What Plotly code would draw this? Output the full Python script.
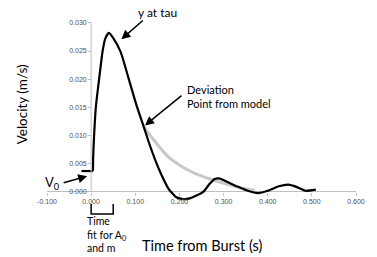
import plotly.graph_objects as go

# Measured velocity (black)
t_measured = [-0.022, 0.004, 0.0045, 0.0067, 0.0106, 0.018, 0.026, 0.032, 0.040, 0.049,
              0.067, 0.085, 0.103, 0.119, 0.132, 0.145, 0.160, 0.175, 0.192, 0.209, 0.225,
              0.240, 0.254, 0.268, 0.280, 0.290, 0.305, 0.333, 0.355, 0.378, 0.400, 0.425,
              0.447, 0.465, 0.486, 0.509]
v_measured = [0.0037, 0.0037, 0.0060, 0.0100, 0.0150, 0.0200, 0.0250, 0.0272, 0.0282, 0.0274,
              0.0248, 0.0201, 0.0153, 0.0116, 0.0085, 0.0057, 0.0029, 0.0006, -0.0009, -0.0013, -0.0011,
              -0.0006, 0.0000, 0.0014, 0.0023, 0.0024, 0.0019, 0.0009, 0.0002, -0.0002, 0.0002, 0.0010,
              0.0013, 0.0009, 0.0002, 0.0004]

# Model fit (gray)
t_model = [0.119, 0.142, 0.175, 0.205, 0.235, 0.273, 0.303, 0.340, 0.371]
v_model = [0.0116, 0.0092, 0.0062, 0.0045, 0.0033, 0.0022, 0.0015, 0.0007, 0.0003]

x_ticks = [-0.1, 0.0, 0.1, 0.2, 0.3, 0.4, 0.5, 0.6]
x_tick_labels = ["-0.100", "0.000", "0.100", "0.200", "0.300", "0.400", "0.500", "0.600"]
y_ticks = [0.000, 0.005, 0.010, 0.015, 0.020, 0.025, 0.030]
y_tick_labels = ["0.000", "0.005", "0.010", "0.015", "0.020", "0.025", "0.030"]

fit_window = [0.0, 0.05]
v0_point = [-0.009, 0.0028]
tau_point = [0.0685, 0.0271]
deviation_point = [0.122, 0.0118]

X_RANGE = [-0.1, 0.6]
Y_RANGE = [-0.0025, 0.0305]
FONT = "Lato"
AXIS_COLOR = "#bfbfbf"


def xp(x):
    return (x - X_RANGE[0]) / (X_RANGE[1] - X_RANGE[0])


fig = go.Figure()
fig.add_trace(go.Scatter(x=t_model, y=v_model, mode="lines",
                         line=dict(color="#c8c8c8", width=3, shape="spline"),
                         hoverinfo="skip", showlegend=False))
fig.add_trace(go.Scatter(x=t_measured[:2], y=v_measured[:2], mode="lines",
                         line=dict(color="black", width=2.2),
                         hoverinfo="skip", showlegend=False))
fig.add_trace(go.Scatter(x=t_measured[1:], y=v_measured[1:], mode="lines",
                         line=dict(color="black", width=2.2, shape="spline", smoothing=0.5),
                         hoverinfo="skip", showlegend=False))

x_pos = (0 - Y_RANGE[0]) / (Y_RANGE[1] - Y_RANGE[0])
y_pos = xp(0)

fig.update_layout(
    width=377, height=257,
    margin=dict(l=46.5, r=19, t=20, b=51),
    paper_bgcolor="white", plot_bgcolor="white",
    font=dict(family=FONT, color="black"),
    xaxis=dict(range=X_RANGE, tickvals=x_ticks, ticktext=x_tick_labels,
               anchor="free", position=x_pos, showgrid=False, zeroline=False,
               showline=False, ticks="outside", ticklen=3, tickcolor=AXIS_COLOR,
               tickfont=dict(family="Liberation Sans", size=7, color="#505050")),
    yaxis=dict(range=Y_RANGE, tickvals=y_ticks, ticktext=y_tick_labels,
               anchor="free", position=y_pos, showgrid=False,
               zeroline=True, zerolinecolor=AXIS_COLOR, zerolinewidth=1,
               showline=False, ticks="outside", ticklen=3, tickcolor=AXIS_COLOR,
               tickfont=dict(family="Liberation Sans", size=7, color="#505050")),
)

# y axis line at x = 0
fig.add_shape(type="line", xref="x", yref="y", x0=0, x1=0, y0=y_ticks[0], y1=y_ticks[-1],
              line=dict(color=AXIS_COLOR, width=1))

# bracket for fit window (paper coordinates so it is not clipped)
bx0, bx1 = xp(fit_window[0]), xp(fit_window[1])
fig.add_shape(type="path", xref="paper", yref="paper",
              path=f"M {bx0},0.011 L {bx0},-0.043 L {bx1},-0.043 L {bx1},0.011",
              line=dict(color="black", width=1.5))

arrow = dict(showarrow=True, arrowhead=2, arrowsize=1.2, arrowwidth=1.5, arrowcolor="black", text="")
fig.add_annotation(x=tau_point[0], y=tau_point[1], ax=23, ay=-20, **arrow)
fig.add_annotation(x=deviation_point[0], y=deviation_point[1], ax=38, ay=-31, **arrow)
fig.add_annotation(x=v0_point[0], y=v0_point[1], ax=-25, ay=7, **arrow)

fig.add_annotation(xref="paper", yref="paper", x=xp(0.1506), y=1.043, text="y at tau",
                   showarrow=False, xanchor="center", yanchor="middle",
                   font=dict(family=FONT, size=12))
fig.add_annotation(x=0.2135, y=0.0170, text="Deviation<br>Point from model", showarrow=False,
                   xanchor="left", yanchor="middle", align="left", font=dict(family=FONT, size=11))
fig.add_annotation(x=-0.0876, y=0.0016, text="V<sub>0</sub>", showarrow=False,
                   xanchor="center", yanchor="middle", font=dict(family=FONT, size=13))
fig.add_annotation(xref="paper", yref="paper", x=xp(-0.0135), y=-0.153,
                   text="Time<br>fit for A<sub>0</sub><br>and m",
                   showarrow=False, xanchor="left", yanchor="middle", align="left",
                   font=dict(family=FONT, size=10.5))
fig.add_annotation(xref="paper", yref="paper", x=xp(0.252), y=-0.21, text="Time from Burst (s)",
                   showarrow=False, xanchor="center", yanchor="middle",
                   font=dict(family=FONT, size=14.5))
fig.add_annotation(xref="paper", yref="paper", x=-0.08, y=0.548, text="Velocity (m/s)",
                   textangle=-90, showarrow=False, xanchor="center", yanchor="middle",
                   font=dict(family=FONT, size=13.5))

fig.write_html("out.html", config={"displayModeBar": False},
               post_script="document.body.style.margin='0';document.body.style.overflow='hidden';")
